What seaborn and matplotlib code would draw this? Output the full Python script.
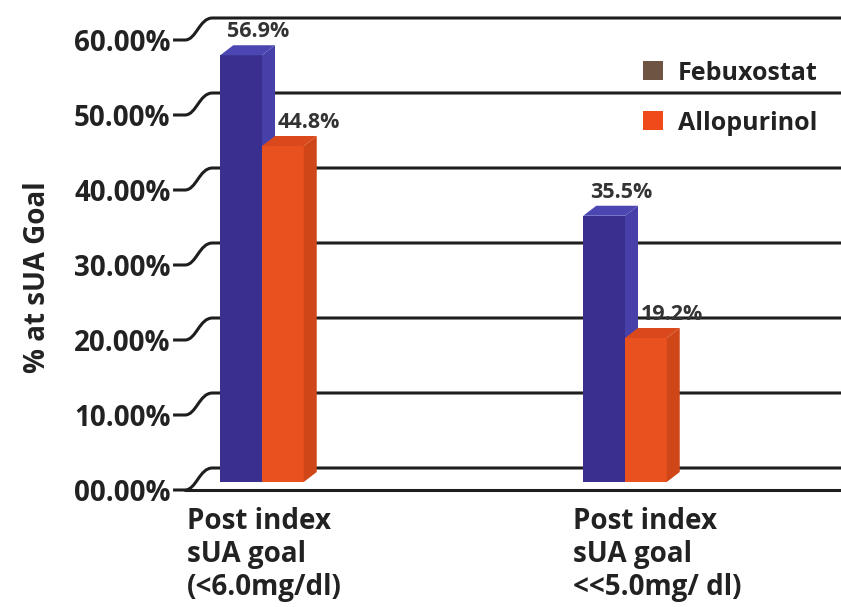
import seaborn as sns
import matplotlib.pyplot as plt
import matplotlib.transforms as mtransforms
from matplotlib.patches import Polygon, Patch, PathPatch
from matplotlib.path import Path
import pandas as pd

categories = ["Post index\nsUA goal\n(<6.0mg/dl)", "Post index\nsUA goal\n<<5.0mg/ dl)"]
drugs = ["Febuxostat", "Allopurinol"]
febuxostat = [56.9, 35.5]
allopurinol = [44.8, 19.2]
yticks = [0, 10, 20, 30, 40, 50, 60]
ytick_labels = ["00.00%", "10.00%", "20.00%", "30.00%", "40.00%", "50.00%", "60.00%"]

# colours: front face, side face, top face
faces = {
	"Febuxostat": ("#3a2f8f", "#4640a8", "#4c46b3"),
	"Allopurinol": ("#e9511f", "#cf4719", "#d9491c"),
}
legend_colors = {"Febuxostat": "#6e5443", "Allopurinol": "#f04a1a"}

df = pd.DataFrame({
	"category": categories * 2,
	"drug": [drugs[0]] * 2 + [drugs[1]] * 2,
	"value": febuxostat + allopurinol,
})

sns.set_style("white")
plt.rcParams["font.family"] = ["Open Sans", "DejaVu Sans"]

fig = plt.figure(figsize=(8.41, 6.07), dpi=100)
ax = fig.add_axes([215 / 841, 117 / 607, 626 / 841, 472 / 607])

# fake depth of the 3D look (data units)
FRONT = 22 / 7.5      # front floor sits below the back wall
BAR_DROP = 14 / 7.5   # bars stand a little in front of the back wall
DX = 13 / 363
DY = 10 / 7.5

sns.barplot(data=df, x="category", y="value", hue="drug", order=categories, hue_order=drugs,
			palette={d: faces[d][0] for d in drugs}, width=0.23, saturation=1,
			linewidth=0, legend=False, ax=ax)

ax.set_xlim(-47 / 363, 1 + 216 / 363)
ax.set_ylim(-FRONT, 60)

for k, (container, drug) in enumerate(zip(ax.containers, drugs)):
	front, side, top = faces[drug]
	z = 2 + 2 * k
	for bar in container:
		bar.set_y(-BAR_DROP)
		bar.set_zorder(z)
		x0 = bar.get_x()
		x1 = x0 + bar.get_width()
		y0 = -BAR_DROP
		y1 = y0 + bar.get_height()
		ax.add_patch(Polygon([(x1, y0), (x1 + DX, y0 + DY), (x1 + DX, y1 + DY), (x1, y1)],
							 facecolor=side, edgecolor="none", zorder=z + 1))
		ax.add_patch(Polygon([(x0, y1), (x0 + DX, y1 + DY), (x1 + DX, y1 + DY), (x1, y1)],
							 facecolor=top, edgecolor="none", zorder=z + 1))
		xoff = 12 if k == 0 else 19
		ax.annotate(f"{bar.get_height():.1f}%", (x0 + bar.get_width() / 2, y1 + DY),
					xytext=(xoff, 2), textcoords="offset points", ha="center", va="bottom",
					fontsize=15.5, fontweight="bold", color="#333333", zorder=8)

# slanted gridlines (perspective)
trans = ax.get_yaxis_transform()
for v in yticks:
	verts = [(-0.067, v - FRONT), (-0.048, v - FRONT), (-0.030, v - FRONT),
			 (-0.025, v), (-0.004, v), (1.0, v)]
	codes = [Path.MOVETO, Path.LINETO, Path.CURVE4, Path.CURVE4, Path.CURVE4, Path.LINETO]
	ax.add_patch(PathPatch(Path(verts, codes), transform=trans, fill=False,
						   edgecolor="#1e1e1e", lw=2.2, clip_on=False, zorder=1))
ax.plot([-0.048, 1.0], [-FRONT, -FRONT], transform=trans, color="#1e1e1e", lw=2.2,
		clip_on=False, zorder=1)

ax.set_yticks([v - FRONT for v in yticks], ytick_labels)
ax.tick_params(axis="y", length=0, pad=32, labelsize=20, labelcolor="#222222")
for t in ax.get_yticklabels():
	t.set_fontweight("bold")

ax.set_xticks([0, 1], categories)
ax.tick_params(axis="x", length=0, pad=12, labelsize=20, labelcolor="#222222")
xoffs = [-75, -52]
for t, dx in zip(ax.get_xticklabels(), xoffs):
	t.set_fontweight("bold")
	t.set_horizontalalignment("left")
	t.set_linespacing(1.2)
	t.set_transform(t.get_transform() + mtransforms.ScaledTranslation(dx / 100, 0, fig.dpi_scale_trans))

ax.set_xlabel("")
ax.set_ylabel("")
fig.text(38 / 841, 1 - 277 / 607, "% at sUA Goal", rotation=90, ha="center", va="center",
		 fontsize=20, fontweight="bold", color="#222222")

for s in ax.spines.values():
	s.set_visible(False)

handles = [Patch(facecolor=legend_colors[d], edgecolor="none", label=d) for d in drugs]
ax.legend(handles=handles, loc="upper left", bbox_to_anchor=(620 / 841, 1 - 38 / 607),
		  bbox_transform=fig.transFigure, frameon=False, handlelength=0.8, handleheight=0.8,
		  handletextpad=0.6, labelspacing=1.0, prop={"size": 18, "weight": "bold"},
		  labelcolor="#222222")

fig.savefig("out.png", dpi=100)
